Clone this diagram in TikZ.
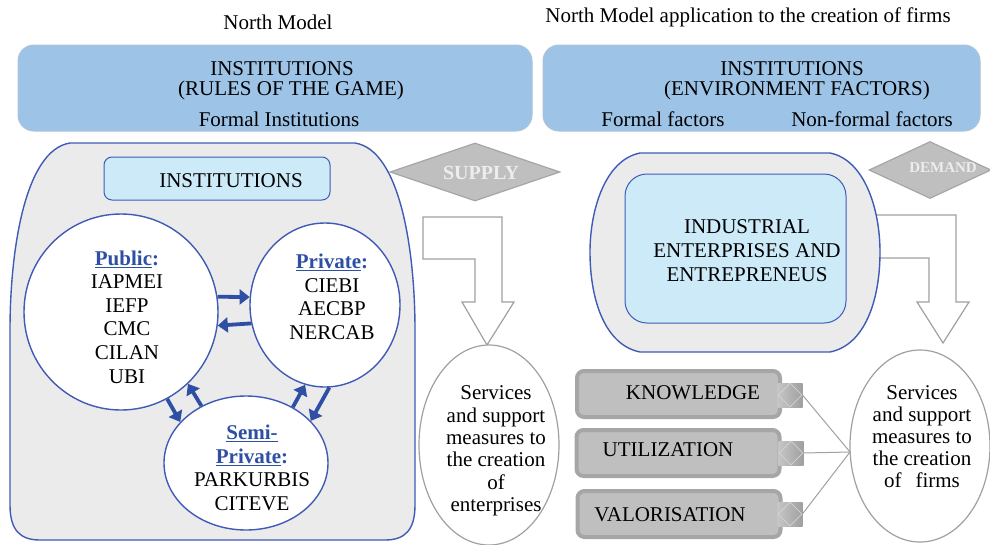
\documentclass[tikz,border=0pt]{standalone}
\usepackage{fontspec}
\setmainfont{Liberation Serif}
\usetikzlibrary{arrows.meta,shapes.geometric}
\definecolor{ringblue}{HTML}{3F5BB5}
\definecolor{flowblue}{HTML}{2E4FA3}
\definecolor{topfill}{HTML}{9DC3E6}
\definecolor{topline}{HTML}{AFC2D6}
\definecolor{cyanfill}{HTML}{CDEAF8}
\definecolor{shapegray}{HTML}{EBEBEB}
\definecolor{signfill}{HTML}{BFBFBF}
\definecolor{signline}{HTML}{A6A6A6}
\definecolor{blockline}{HTML}{A0A0A0}
\begin{document}
\begin{tikzpicture}[x=1pt,y=-1pt,
  every node/.style={font=\fontsize{21}{23.6}\selectfont, inner sep=0pt},
  topbox/.style={draw=topline, fill=topfill, line width=1pt, rounded corners=16pt},
  ring/.style={ellipse, draw=ringblue, fill=white, line width=1.4pt},
  flow/.style={draw=flowblue, line width=3.8pt, -{Triangle[length=10pt,width=15pt]}},
  sign/.style={diamond, aspect=3, draw=signline, fill=signfill, line width=1.2pt},
  block/.style={draw=blockline, fill=white, line width=1.2pt},
  tab/.style={draw=signline, fill=signfill, line width=4pt, rounded corners=7pt,
    minimum width=203pt, minimum height=46pt},
  knot/.style={minimum width=25pt, minimum height=24pt, left color=gray!45, right color=gray!75},
  knotd/.style={diamond, draw=gray!35, line width=0.8pt, minimum width=24pt, minimum height=24pt},
  link/.style={draw=blockline, line width=1pt},
  serv/.style={ellipse, draw=blockline, fill=white, line width=1.2pt, minimum width=140pt}]
  \useasboundingbox (0,0) rectangle (990,544);

  % headings
  \node (lhead) at (278,22) {North Model};
  \node (rhead) at (748,17) {North Model application to the creation of firms};

  % rules of the game
  \node[topbox, minimum width=514pt, minimum height=86pt] (lbox) at (275,88) {};
  \node (ltitle) at (282,69) {INSTITUTIONS};
  \node (lrules) at (291,90) {(RULES OF THE GAME)};
  \node (lformal) at (279,119) {Formal Institutions};

  \node[topbox, minimum width=437pt, minimum height=86pt] (rbox) at (761.5,88) {};
  \node (rtitle) at (792,69) {INSTITUTIONS};
  \node (renv) at (797,90) {(ENVIRONMENT FACTORS)};
  \node (rformal) at (663,119) {Formal factors};
  \node (rnonformal) at (872,119) {Non-formal factors};

  % supply side
  \draw [line width=1.4pt, draw=ringblue, fill=shapegray] (70,143) -- (355,143)
    .. controls (400,150) and (415,250) .. (415,330) -- (415,505)
    .. controls (415,530) and (405,540) .. (385,540) -- (40,540)
    .. controls (20,540) and (10,530) .. (10,505) -- (10,330)
    .. controls (10,250) and (25,150) .. (70,143) -- cycle;
  \node[draw=ringblue, fill=cyanfill, line width=1pt, rounded corners=8pt,
    minimum width=226pt, minimum height=43pt] (instbox) at (217,178.5) {};
  \node (insttxt) at (231,181) {INSTITUTIONS};

  \node[ring, minimum width=194pt, minimum height=196pt] (pub) at (121,312) {};
  \node[ring, minimum width=150pt, minimum height=164pt] (priv) at (325,305) {};
  \node[ring, minimum width=164pt, minimum height=134pt] (semi) at (246,463) {};

  \node[align=center] (pubtxt) at (127,317)
    {\textcolor{flowblue}{\textbf{\underline{Public}:}}\\IAPMEI\\IEFP\\CMC\\CILAN\\UBI};
  \node[align=center] (privtxt) at (332,297)
    {\textcolor{flowblue}{\textbf{\underline{Private}:}}\\CIEBI\\AECBP\\NERCAB};
  \node[align=center] (semitxt) at (252,468)
    {\textcolor{flowblue}{\textbf{\underline{Semi-}}}\\\textcolor{flowblue}{\textbf{\underline{Private}:}}\\PARKURBIS\\CITEVE};

  \draw[flow] (pub.9) -- (priv.174);
  \draw[flow] (priv.194) -- (pub.352);
  \draw[flow] (pub.298) -- (semi.148);
  \draw[flow] (semi.128) -- (pub.313);
  \draw[flow] (semi.50) -- (priv.256);
  \draw[flow] (priv.273) -- (semi.33);

  \node[sign, minimum width=170pt, minimum height=58pt] (supply) at (475,172) {};
  \node[font=\bfseries\fontsize{20}{22}\selectfont, text=white!93!black] (supplytxt) at (481,173) {SUPPLY};
  \draw[block] (423,217) -- (502,217) -- (502,302) -- (514,302) -- (487,345)
    -- (462,302) -- (475,302) -- (475,259) -- (423,259) -- cycle;
  \node[serv, minimum height=200pt] (lserv) at (489,445) {};
  \node[align=center, font=\fontsize{21}{22.4}\selectfont] (lservtxt) at (496,451)
    {Services\\and support\\measures to\\the creation\\of\\enterprises};

  % demand side
  \draw[block] (870,215) -- (956,215) -- (956,302) -- (969,302) -- (943,343)
    -- (917,302) -- (929,302) -- (929,258) -- (870,258) -- cycle;
  \draw [line width=1.4pt, draw=ringblue, fill=shapegray] (640,153) -- (830,153)
    .. controls (865,160) and (880,210) .. (880,252)
    .. controls (880,300) and (865,345) .. (830,352) -- (640,352)
    .. controls (605,345) and (590,300) .. (590,252)
    .. controls (590,210) and (605,160) .. (640,153) -- cycle;
  \node[draw=ringblue, fill=cyanfill, line width=1pt, rounded corners=22pt,
    minimum width=221pt, minimum height=149pt] (entbox) at (735.5,248.5) {};
  \node[align=center, font=\fontsize{21}{24}\selectfont] (enttxt) at (747,251)
    {INDUSTRIAL\\ENTERPRISES AND\\ENTREPRENEUS};

  \node[sign, minimum width=122pt, minimum height=57pt] (demand) at (930,170) {};
  \node[font=\bfseries\fontsize{15}{17}\selectfont, text=white!93!black] (demandtxt) at (943,168) {DEMAND};

  \node[tab] (know) at (678.5,394) {};
  \node (knowtxt) at (693,393) {KNOWLEDGE};
  \node[tab] (util) at (678,453) {};
  \node (utiltxt) at (668,450) {UTILIZATION};
  \node[tab] (valo) at (679,514) {};
  \node (valotxt) at (670,515) {VALORISATION};

  \node[knot] (knowsq) at (790,395) {};
  \node[knotd] (knowdm) at (knowsq) {};
  \node[knot] (utilsq) at (791,453) {};
  \node[knotd] (utildm) at (utilsq) {};
  \node[knot] (valosq) at (790,514) {};
  \node[knotd] (valodm) at (valosq) {};

  \node[serv, minimum height=192pt] (rserv) at (920,446) {};
  \node[align=center, font=\fontsize{21}{22}\selectfont] (rservtxt) at (922,437)
    {Services\\and support\\measures to\\the creation\\of\hspace{14pt}firms};
  \coordinate (meet) at (850,452);
  \draw[link] (knowdm.east) -- (meet);
  \draw[link] (utildm.east) -- (meet);
  \draw[link] (valodm.east) -- (meet);
\end{tikzpicture}
\end{document}
